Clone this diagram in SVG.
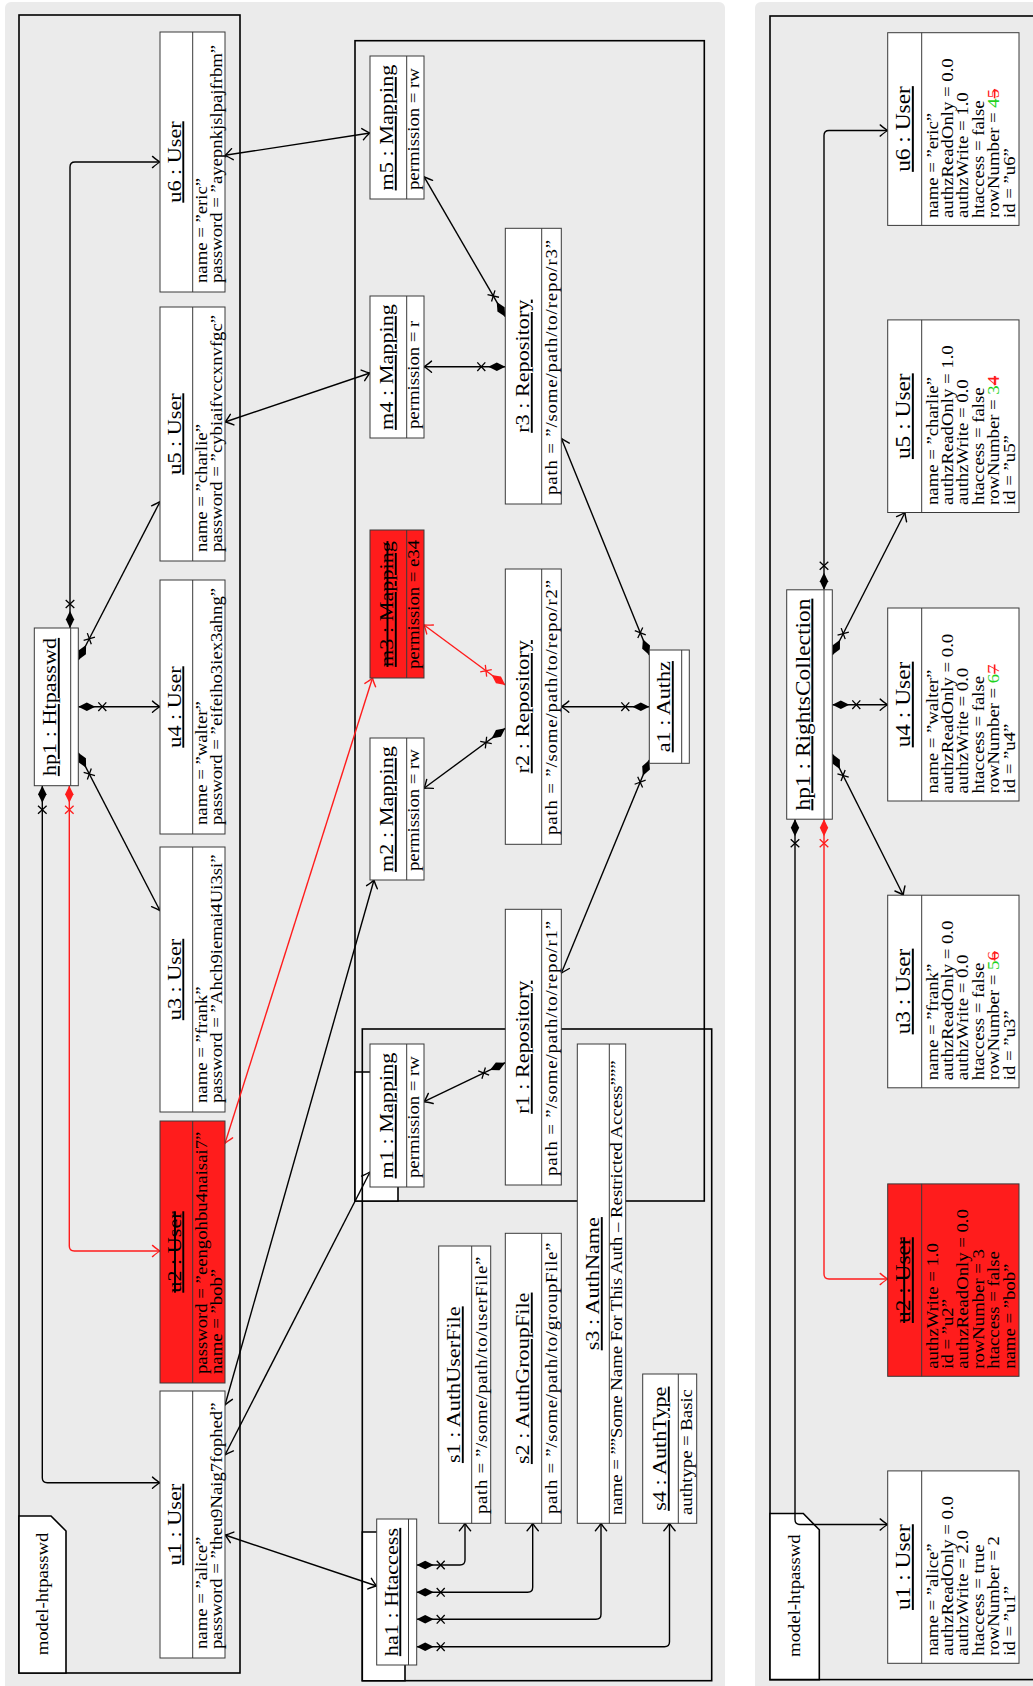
<svg xmlns="http://www.w3.org/2000/svg" width="1033" height="1686" viewBox="0 0 1033 1686">
  <style>
    text { font-family: "Liberation Serif", "Times New Roman", serif; fill: #000; }
    .tt { font-size: 19px; text-anchor: middle; text-decoration: underline; }
    .tt2 { font-size: 20px; text-anchor: middle; text-decoration: underline; }
    .st { text-decoration: underline line-through; }
    .at { font-size: 16px; }
    .pk { font-size: 16px; text-anchor: middle; }
    .g { fill: #1ed21e; }
    .x { fill: #ff1c1c; text-decoration: line-through; }
    .bg { fill: #ebebeb; }
    .frame { fill: none; stroke: #000; stroke-width: 1.6; }
    .tab { fill: #fff; stroke: #000; stroke-width: 1.6; }
    .box { fill: #fff; stroke: #3a3a3a; stroke-width: 1; }
    .del { fill: #ff1c1c; }
    .div { stroke: #3a3a3a; stroke-width: 1; }
    .ln { fill: none; stroke: #000; stroke-width: 1.4; marker-start: url(#cm); marker-end: url(#ah); }
    .lr { fill: none; stroke: #ff1c1c; stroke-width: 1.4; marker-start: url(#cmR); marker-end: url(#ahR); }
    .bi { fill: none; stroke: #000; stroke-width: 1.4; marker-start: url(#ah); marker-end: url(#ah); }
    .biR { fill: none; stroke: #ff1c1c; stroke-width: 1.4; marker-start: url(#ahR); marker-end: url(#ahR); }
  </style>
  <defs>
    <!-- open navigability arrowhead -->
    <marker id="ah" markerUnits="userSpaceOnUse" markerWidth="16" markerHeight="16" viewBox="-12 -8 16 16" refX="0" refY="0" orient="auto-start-reverse" overflow="visible">
      <path d="M-7.5,-5.6 Q-2.5,-1.4 0,0 Q-2.5,1.4 -7.5,5.6" fill="none" stroke="#000" stroke-width="1.4" stroke-linecap="round"/>
    </marker>
    <marker id="ahR" markerUnits="userSpaceOnUse" markerWidth="16" markerHeight="16" viewBox="-12 -8 16 16" refX="0" refY="0" orient="auto-start-reverse" overflow="visible">
      <path d="M-7.5,-5.6 Q-2.5,-1.4 0,0 Q-2.5,1.4 -7.5,5.6" fill="none" stroke="#ff1c1c" stroke-width="1.4" stroke-linecap="round"/>
    </marker>
    <!-- composition diamond followed by a non-navigable cross -->
    <marker id="cm" markerUnits="userSpaceOnUse" markerWidth="32" markerHeight="12" viewBox="0 -6 32 12" refX="0" refY="0" orient="auto" overflow="visible">
      <path d="M0,0 L8.5,-4.2 L17,0 L8.5,4.2 Z" fill="#000"/>
      <path d="M20,-4.3 L28,4.3 M20,4.3 L28,-4.3" stroke="#000" stroke-width="1.3"/>
    </marker>
    <marker id="cmR" markerUnits="userSpaceOnUse" markerWidth="32" markerHeight="12" viewBox="0 -6 32 12" refX="0" refY="0" orient="auto" overflow="visible">
      <path d="M0,0 L8.5,-4.2 L17,0 L8.5,4.2 Z" fill="#ff1c1c"/>
      <path d="M20,-4.3 L28,4.3 M20,4.3 L28,-4.3" stroke="#ff1c1c" stroke-width="1.3"/>
    </marker>
  </defs>

  <!-- panel backgrounds -->
  <rect class="bg" x="5" y="2" width="720" height="1690" rx="6"/>
  <rect class="bg" x="755" y="2" width="290" height="1690" rx="6"/>

  <!-- package frames -->
  <g id="frames">
    <rect class="frame" x="19" y="15" width="221" height="1658"/>
    <polygon class="tab" points="19,1516 51,1516 66,1531 66,1673 19,1673"/>
    <text class="pk" transform="matrix(0,-1.17,1,0,47.5,1594)">model-htpasswd</text>

    <rect class="frame" x="355" y="40.7" width="349.3" height="1160.3"/>
    <polygon class="tab" points="355,1072 383,1072 398,1087 398,1201 355,1201"/>

    <rect class="frame" x="362.3" y="1029" width="349.4" height="651.7"/>
    <polygon class="tab" points="362.3,1532 390,1532 405,1547 405,1680.7 362.3,1680.7"/>

    <rect class="frame" x="770" y="16" width="300" height="1663.6"/>
    <polygon class="tab" points="770,1513.5 803.3,1513.5 819.3,1529.8 819.3,1679.6 770,1679.6"/>
    <text class="pk" transform="matrix(0,-1.17,1,0,800,1595.6)">model-htpasswd</text>
  </g>

  <!-- connectors -->
  <g id="connectors">
    <!-- Htpasswd to its users -->
    <path class="ln" d="M70,628 V167 Q70,162 75,162 H160"/>
    <path class="ln" d="M78.3,660 L160,501.7"/>
    <path class="ln" d="M78.3,706.7 H160"/>
    <path class="ln" d="M78.3,752.7 L160,910.7"/>
    <path class="ln" d="M42.3,785.7 V1477.7 Q42.3,1482.7 47.3,1482.7 H160"/>
    <path class="lr" d="M69.3,785.7 V1246 Q69.3,1251 74.3,1251 H160"/>
    <!-- users to mappings / htaccess -->
    <path class="bi" d="M225,155.3 L370,133"/>
    <path class="bi" d="M225,422 L370,373"/>
    <path class="biR" d="M225,1143.3 L372.5,678"/>
    <path class="bi" d="M225,1405 L374,880"/>
    <path class="bi" d="M225,1455 L370,1172"/>
    <path class="bi" d="M225,1535 L376.7,1586"/>
    <!-- Authz to repositories -->
    <path class="ln" d="M649.3,655 L561.3,438.3"/>
    <path class="ln" d="M649.3,706.7 H561.3"/>
    <path class="ln" d="M649.3,760 L561.3,973.3"/>
    <!-- repositories to mappings -->
    <path class="ln" d="M505.3,316.7 L424,176.7"/>
    <path class="ln" d="M505.3,366.7 H424"/>
    <path class="lr" d="M505.3,685 L424,625"/>
    <path class="ln" d="M505.3,728.3 L424,788.3"/>
    <path class="ln" d="M505.3,1062.7 L424,1101.7"/>
    <!-- Htaccess to its settings -->
    <path class="ln" d="M416.7,1565 H460 Q465,1565 465,1560 V1523.3"/>
    <path class="ln" d="M416.7,1592.3 H527.7 Q532.7,1592.3 532.7,1587.3 V1523.3"/>
    <path class="ln" d="M416.7,1619.3 H596 Q601,1619.3 601,1614.3 V1523.3"/>
    <path class="ln" d="M416.7,1646.7 H664.5 Q669.5,1646.7 669.5,1641.7 V1523.3"/>
    <!-- RightsCollection to its users -->
    <path class="ln" d="M824,589.8 V135.5 Q824,130.5 829,130.5 H887.7"/>
    <path class="ln" d="M832.3,655 L905,512.5"/>
    <path class="ln" d="M832.3,704.7 H887.7"/>
    <path class="ln" d="M832.3,754 L903.3,895.2"/>
    <path class="ln" d="M795,819.2 V1519.5 Q795,1524.5 800,1524.5 H887.7"/>
    <path class="lr" d="M824,819.2 V1274 Q824,1279 829,1279 H887.7"/>
  </g>

  <!-- ===== htpasswd model ===== -->
  <g id="hp1">
    <rect class="box" x="34.3" y="628" width="44" height="157.7"/>
    <line class="div" x1="70.7" y1="628" x2="70.7" y2="785.7"/>
    <text class="tt" transform="matrix(0,-1.17,1,0,56,707)">hp1 : Htpasswd</text>
  </g>

  <g id="u6">
    <rect class="box" x="160" y="32" width="65" height="260"/>
    <line class="div" x1="192.7" y1="32" x2="192.7" y2="292"/>
    <text class="tt" transform="matrix(0,-1.17,1,0,180.5,162)">u6 : User</text>
    <text class="at" transform="matrix(0,-1.17,1,0,206.7,283)"><tspan x="0" y="0">name = ”eric”</tspan><tspan x="0" y="15">password = ”ayepnkjslpajfrbm”</tspan></text>
  </g>
  <g id="u5">
    <rect class="box" x="160" y="307" width="65" height="254"/>
    <line class="div" x1="192.7" y1="307" x2="192.7" y2="561"/>
    <text class="tt" transform="matrix(0,-1.17,1,0,180.5,434)">u5 : User</text>
    <text class="at" transform="matrix(0,-1.17,1,0,206.7,552)"><tspan x="0" y="0">name = ”charlie”</tspan><tspan x="0" y="15">password = ”cybiaifvccxnvfgc”</tspan></text>
  </g>
  <g id="u4">
    <rect class="box" x="160" y="580" width="65" height="254"/>
    <line class="div" x1="192.7" y1="580" x2="192.7" y2="834"/>
    <text class="tt" transform="matrix(0,-1.17,1,0,180.5,707)">u4 : User</text>
    <text class="at" transform="matrix(0,-1.17,1,0,206.7,825)"><tspan x="0" y="0">name = ”walter”</tspan><tspan x="0" y="15">password = ”eifeiho3iex3ahng”</tspan></text>
  </g>
  <g id="u3">
    <rect class="box" x="160" y="847" width="65" height="265"/>
    <line class="div" x1="192.7" y1="847" x2="192.7" y2="1112"/>
    <text class="tt" transform="matrix(0,-1.17,1,0,180.5,979.5)">u3 : User</text>
    <text class="at" transform="matrix(0,-1.17,1,0,206.7,1103)"><tspan x="0" y="0">name = ”frank”</tspan><tspan x="0" y="15">password = ”Ahch9iemai4Ui3si”</tspan></text>
  </g>
  <g id="u2">
    <rect class="box del" x="160" y="1121" width="65" height="262"/>
    <line class="div" x1="192.7" y1="1121" x2="192.7" y2="1383"/>
    <text class="tt st" transform="matrix(0,-1.17,1,0,180.5,1252)">u2 : User</text>
    <text class="at" transform="matrix(0,-1.17,1,0,206.7,1374)"><tspan x="0" y="0">password = ”eengohbu4naisai7”</tspan><tspan x="0" y="15">name = ”bob”</tspan></text>
  </g>
  <g id="u1">
    <rect class="box" x="160" y="1391" width="65" height="267"/>
    <line class="div" x1="192.7" y1="1391" x2="192.7" y2="1658"/>
    <text class="tt" transform="matrix(0,-1.17,1,0,180.5,1524.5)">u1 : User</text>
    <text class="at" transform="matrix(0,-1.17,1,0,206.7,1649)"><tspan x="0" y="0">name = ”alice”</tspan><tspan x="0" y="15">password = ”theu9Naig7fophed”</tspan></text>
  </g>

  <!-- authz model -->
  <g id="m5">
    <rect class="box" x="370" y="56" width="54" height="143"/>
    <line class="div" x1="406.7" y1="56" x2="406.7" y2="199"/>
    <text class="tt" transform="matrix(0,-1.17,1,0,393,127.5)">m5 : Mapping</text>
    <text class="at" transform="matrix(0,-1.17,1,0,418.5,190)">permission = rw</text>
  </g>
  <g id="m4">
    <rect class="box" x="370" y="296" width="54" height="142"/>
    <line class="div" x1="406.7" y1="296" x2="406.7" y2="438"/>
    <text class="tt" transform="matrix(0,-1.17,1,0,393,367)">m4 : Mapping</text>
    <text class="at" transform="matrix(0,-1.17,1,0,418.5,429)">permission = r</text>
  </g>
  <g id="m3">
    <rect class="box del" x="370" y="530" width="54" height="148"/>
    <line class="div" x1="406.7" y1="530" x2="406.7" y2="678"/>
    <text class="tt st" transform="matrix(0,-1.17,1,0,393,604)">m3 : Mapping</text>
    <text class="at" transform="matrix(0,-1.17,1,0,418.5,669)">permission = e34</text>
  </g>
  <g id="m2">
    <rect class="box" x="370" y="738" width="54" height="142"/>
    <line class="div" x1="406.7" y1="738" x2="406.7" y2="880"/>
    <text class="tt" transform="matrix(0,-1.17,1,0,393,809)">m2 : Mapping</text>
    <text class="at" transform="matrix(0,-1.17,1,0,418.5,871)">permission = rw</text>
  </g>
  <g id="m1">
    <rect class="box" x="370" y="1044" width="54" height="143"/>
    <line class="div" x1="406.7" y1="1044" x2="406.7" y2="1187"/>
    <text class="tt" transform="matrix(0,-1.17,1,0,393,1115.5)">m1 : Mapping</text>
    <text class="at" transform="matrix(0,-1.17,1,0,418.5,1178)">permission = rw</text>
  </g>

  <g id="r3">
    <rect class="box" x="505.3" y="228.3" width="56" height="275.7"/>
    <line class="div" x1="541.7" y1="228.3" x2="541.7" y2="504"/>
    <text class="tt" transform="matrix(0,-1.17,1,0,529,366.2)">r3 : Repository</text>
    <text class="at" transform="matrix(0,-1.17,1,0,556.5,495)" textLength="218" lengthAdjust="spacing">path = ”/some/path/to/repo/r3”</text>
  </g>
  <g id="r2">
    <rect class="box" x="505.3" y="569" width="56" height="275.3"/>
    <line class="div" x1="541.7" y1="569" x2="541.7" y2="844.3"/>
    <text class="tt" transform="matrix(0,-1.17,1,0,529,706.7)">r2 : Repository</text>
    <text class="at" transform="matrix(0,-1.17,1,0,556.5,835)" textLength="218" lengthAdjust="spacing">path = ”/some/path/to/repo/r2”</text>
  </g>
  <g id="r1">
    <rect class="box" x="505.3" y="909.3" width="56" height="275.7"/>
    <line class="div" x1="541.7" y1="909.3" x2="541.7" y2="1185"/>
    <text class="tt" transform="matrix(0,-1.17,1,0,529,1047.2)">r1 : Repository</text>
    <text class="at" transform="matrix(0,-1.17,1,0,556.5,1176)" textLength="218" lengthAdjust="spacing">path = ”/some/path/to/repo/r1”</text>
  </g>

  <g id="a1">
    <rect class="box" x="649.3" y="650" width="40" height="113.3"/>
    <line class="div" x1="681.7" y1="650" x2="681.7" y2="763.3"/>
    <text class="tt" transform="matrix(0,-1.17,1,0,670,706.7)">a1 : Authz</text>
  </g>

  <!-- htaccess model -->
  <g id="ha1">
    <rect class="box" x="376.7" y="1519" width="40" height="146"/>
    <line class="div" x1="408.5" y1="1519" x2="408.5" y2="1665"/>
    <text class="tt" transform="matrix(0,-1.17,1,0,397.5,1592)">ha1 : Htaccess</text>
  </g>
  <g id="s1">
    <rect class="box" x="438.7" y="1246" width="52" height="277.3"/>
    <line class="div" x1="471.7" y1="1246" x2="471.7" y2="1523.3"/>
    <text class="tt" transform="matrix(0,-1.17,1,0,460,1384.7)">s1 : AuthUserFile</text>
    <text class="at" transform="matrix(0,-1.17,1,0,486.5,1514)" textLength="220" lengthAdjust="spacing">path = ”/some/path/to/userFile”</text>
  </g>
  <g id="s2">
    <rect class="box" x="505.3" y="1233.3" width="56" height="290"/>
    <line class="div" x1="541.7" y1="1233.3" x2="541.7" y2="1523.3"/>
    <text class="tt" transform="matrix(0,-1.17,1,0,529,1378.3)">s2 : AuthGroupFile</text>
    <text class="at" transform="matrix(0,-1.17,1,0,556.5,1514)" textLength="232" lengthAdjust="spacing">path = ”/some/path/to/groupFile”</text>
  </g>
  <g id="s3">
    <rect class="box" x="577.3" y="1044" width="48.4" height="479.3"/>
    <line class="div" x1="609.3" y1="1044" x2="609.3" y2="1523.3"/>
    <text class="tt" transform="matrix(0,-1.17,1,0,599,1283.7)">s3 : AuthName</text>
    <text class="at" transform="matrix(0,-1.17,1,0,621.5,1515)">name = ””Some Name For This Auth – Restricted Access”””</text>
  </g>
  <g id="s4">
    <rect class="box" x="642.7" y="1374" width="54" height="149.3"/>
    <line class="div" x1="678.3" y1="1374" x2="678.3" y2="1523.3"/>
    <text class="tt" transform="matrix(0,-1.17,1,0,666,1448.7)">s4 : AuthType</text>
    <text class="at" transform="matrix(0,-1.17,1,0,692,1515)">authtype = Basic</text>
  </g>

  <!-- ===== rights collection model ===== -->
  <g id="rc-hp1">
    <rect class="box" x="786.7" y="589.8" width="45.6" height="229.4"/>
    <line class="div" x1="824" y1="589.8" x2="824" y2="819.2"/>
    <text class="tt2" transform="matrix(0,-1.17,1,0,809.5,704.5)">hp1 : RightsCollection</text>
  </g>
  <g id="rc-u6">
    <rect class="box" x="887.7" y="32.7" width="131.3" height="192.7"/>
    <line class="div" x1="921.7" y1="32.7" x2="921.7" y2="225.4"/>
    <text class="tt2" transform="matrix(0,-1.17,1,0,910,129)">u6 : User</text>
    <text class="at" transform="matrix(0,-1.17,1,0,937.5,218)"><tspan x="0" y="0">name = ”eric”</tspan><tspan x="0" y="15.5">authzReadOnly = 0.0</tspan><tspan x="0" y="31">authzWrite = 1.0</tspan><tspan x="0" y="46.5">htaccess = false</tspan><tspan x="0" y="62">rowNumber = <tspan class="g">4</tspan><tspan class="x">5</tspan></tspan><tspan x="0" y="77.5">id = ”u6”</tspan></text>
  </g>
  <g id="rc-u5">
    <rect class="box" x="887.7" y="319.9" width="131.3" height="192.6"/>
    <line class="div" x1="921.7" y1="319.9" x2="921.7" y2="512.5"/>
    <text class="tt2" transform="matrix(0,-1.17,1,0,910,416.2)">u5 : User</text>
    <text class="at" transform="matrix(0,-1.17,1,0,937.5,505)"><tspan x="0" y="0">name = ”charlie”</tspan><tspan x="0" y="15.5">authzReadOnly = 1.0</tspan><tspan x="0" y="31">authzWrite = 0.0</tspan><tspan x="0" y="46.5">htaccess = false</tspan><tspan x="0" y="62">rowNumber = <tspan class="g">3</tspan><tspan class="x">4</tspan></tspan><tspan x="0" y="77.5">id = ”u5”</tspan></text>
  </g>
  <g id="rc-u4">
    <rect class="box" x="887.7" y="608" width="131.3" height="193"/>
    <line class="div" x1="921.7" y1="608" x2="921.7" y2="801"/>
    <text class="tt2" transform="matrix(0,-1.17,1,0,910,704.5)">u4 : User</text>
    <text class="at" transform="matrix(0,-1.17,1,0,937.5,793.5)"><tspan x="0" y="0">name = ”walter”</tspan><tspan x="0" y="15.5">authzReadOnly = 0.0</tspan><tspan x="0" y="31">authzWrite = 0.0</tspan><tspan x="0" y="46.5">htaccess = false</tspan><tspan x="0" y="62">rowNumber = <tspan class="g">6</tspan><tspan class="x">7</tspan></tspan><tspan x="0" y="77.5">id = ”u4”</tspan></text>
  </g>
  <g id="rc-u3">
    <rect class="box" x="887.7" y="895.2" width="131.3" height="192.6"/>
    <line class="div" x1="921.7" y1="895.2" x2="921.7" y2="1087.8"/>
    <text class="tt2" transform="matrix(0,-1.17,1,0,910,991.5)">u3 : User</text>
    <text class="at" transform="matrix(0,-1.17,1,0,937.5,1080.3)"><tspan x="0" y="0">name = ”frank”</tspan><tspan x="0" y="15.5">authzReadOnly = 0.0</tspan><tspan x="0" y="31">authzWrite = 0.0</tspan><tspan x="0" y="46.5">htaccess = false</tspan><tspan x="0" y="62">rowNumber = <tspan class="g">5</tspan><tspan class="x">6</tspan></tspan><tspan x="0" y="77.5">id = ”u3”</tspan></text>
  </g>
  <g id="rc-u2">
    <rect class="box del" x="887.7" y="1183.9" width="131.3" height="192.4"/>
    <line class="div" x1="921.7" y1="1183.9" x2="921.7" y2="1376.3"/>
    <text class="tt2 st" transform="matrix(0,-1.17,1,0,910,1280.1)">u2 : User</text>
    <text class="at" transform="matrix(0,-1.17,1,0,937.5,1368.8)"><tspan x="0" y="0">authzWrite = 1.0</tspan><tspan x="0" y="15.5">id = ”u2”</tspan><tspan x="0" y="31">authzReadOnly = 0.0</tspan><tspan x="0" y="46.5">rowNumber = 3</tspan><tspan x="0" y="62">htaccess = false</tspan><tspan x="0" y="77.5">name = ”bob”</tspan></text>
  </g>
  <g id="rc-u1">
    <rect class="box" x="887.7" y="1470.9" width="131.3" height="192.4"/>
    <line class="div" x1="921.7" y1="1470.9" x2="921.7" y2="1663.3"/>
    <text class="tt2" transform="matrix(0,-1.17,1,0,910,1567.1)">u1 : User</text>
    <text class="at" transform="matrix(0,-1.17,1,0,937.5,1655.8)"><tspan x="0" y="0">name = ”alice”</tspan><tspan x="0" y="15.5">authzReadOnly = 0.0</tspan><tspan x="0" y="31">authzWrite = 2.0</tspan><tspan x="0" y="46.5">htaccess = true</tspan><tspan x="0" y="62">rowNumber = 2</tspan><tspan x="0" y="77.5">id = ”u1”</tspan></text>
  </g>
</svg>
